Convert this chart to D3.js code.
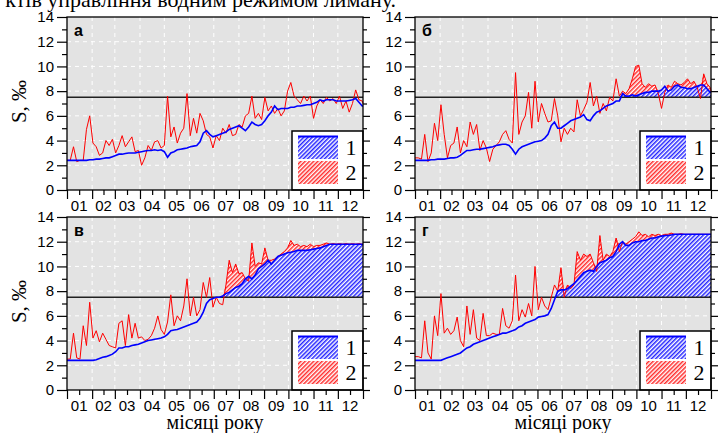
<!DOCTYPE html>
<html>
<head>
<meta charset="utf-8">
<script src="https://cdn.jsdelivr.net/npm/d3@7"></script>
<style>
  body { margin: 0; background: #fff; }
  svg { display: block; }
</style>
</head>
<body>
<svg id="chart" width="723" height="433"></svg>
<script>
// days of the year the values were read at
const days = [0,4,8,12,16,20,24,28,32,36,40,44,48,52,56,60,64,68,72,76,80,84,88,92,96,100,104,108,112,116,
  120,124,128,132,136,140,144,148,152,156,160,164,168,172,176,180,184,188,192,196,200,204,208,212,216,220,224,228,232,236,
  240,244,248,252,256,260,264,268,272,276,280,284,288,292,296,300,304,308,312,316,320,324,328,332,336,340,344,348,352,356,
  360,364,365];

const monthStarts = [0,31,59,90,120,151,181,212,243,273,304,334,365];
const monthMids = [15,45,74,105,135,166,196,227,258,288,319,349];
const monthLabels = ["01","02","03","04","05","06","07","08","09","10","11","12"];
const yMajor = [0,2,4,6,8,10,12,14];
const yMinor = [1,3,5,7,9,11,13];
const threshold = 7.5;

// panel а
const redA = [2.4,2.4,3.5,2.3,2.4,2.4,4.9,6.0,3.8,3.5,
  2.8,3.0,4.0,3.6,4.1,3.0,3.6,4.4,3.5,3.9,
  4.3,3.1,3.2,2.0,2.6,3.6,3.2,3.9,4.0,3.4,
  3.6,7.6,4.3,5.1,3.8,4.6,5.0,7.8,4.4,5.8,
  4.6,6.2,5.6,4.5,4.3,3.4,4.4,4.0,5.0,4.6,
  5.3,4.4,4.5,5.3,5.1,6.0,6.2,7.6,5.8,6.2,
  5.7,7.5,6.4,6.8,6.2,6.6,6.0,6.4,8.0,8.7,
  7.6,7.3,7.0,7.6,7.2,7.6,5.8,6.8,7.3,7.0,
  7.5,7.2,7.4,7.0,7.6,6.6,7.2,6.3,7.0,8.1,
  7.3,7.2,7.0];
const blueA = [2.4,2.4,2.4,2.4,2.4,2.4,2.4,2.45,2.45,2.5,
  2.5,2.55,2.6,2.6,2.7,2.8,2.9,2.9,2.95,3.0,
  3.0,3.0,3.05,3.1,3.15,3.2,3.2,3.25,3.2,3.25,
  3.1,2.65,3.0,3.1,3.25,3.3,3.35,3.4,3.5,3.55,
  3.6,3.9,4.6,4.8,4.5,4.3,4.4,4.5,4.6,4.7,
  4.9,5.0,5.1,5.2,5.0,4.8,5.1,5.5,5.3,5.2,
  5.3,5.6,6.0,6.3,6.8,6.5,6.6,6.6,6.6,6.7,
  6.7,6.8,6.8,6.85,6.9,6.9,7.0,7.1,7.3,7.2,
  7.3,7.3,7.3,7.2,7.2,7.2,7.2,7.25,7.3,7.4,
  7.1,6.8,6.8];

// panel б
const redB = [2.6,2.6,2.5,4.5,2.3,3.0,5.4,4.0,6.9,4.5,
  2.6,3.6,3.8,5.1,3.0,4.0,3.5,5.5,4.5,5.3,
  3.2,4.0,3.4,2.3,3.3,3.6,3.9,4.5,4.8,4.1,
  3.8,9.5,4.5,5.5,6.0,7.9,5.0,8.8,5.5,7.0,
  6.2,5.5,5.6,7.4,6.0,3.9,5.0,4.5,5.0,4.7,
  7.3,6.0,6.5,7.1,8.7,6.8,7.6,6.2,7.0,6.4,
  7.5,7.2,9.0,7.6,8.0,7.8,8.2,9.0,10.0,10.1,
  8.6,8.3,8.6,8.4,8.5,7.8,6.6,7.9,8.5,8.3,
  8.8,8.6,8.5,8.7,9.0,8.6,8.8,8.3,7.4,9.4,
  8.6,8.3,8.0];
const blueB = [2.4,2.4,2.4,2.4,2.4,2.45,2.45,2.5,2.5,2.5,
  2.55,2.6,2.6,2.65,2.8,3.0,3.2,3.2,3.25,3.3,
  3.3,3.35,3.4,3.45,3.5,3.6,3.65,3.7,3.7,3.6,
  3.3,2.9,3.3,3.5,3.6,3.7,3.8,3.9,3.95,4.0,
  4.2,4.5,5.2,5.5,5.0,5.0,5.2,5.4,5.6,5.7,
  5.8,5.9,6.1,5.7,5.6,6.0,6.3,6.4,6.6,6.8,
  6.9,7.0,7.2,7.2,7.8,7.6,7.6,7.7,7.6,7.7,
  7.8,7.9,7.9,8.0,8.0,8.0,8.1,8.4,8.0,8.1,
  8.4,8.5,8.3,8.3,8.2,8.2,8.3,8.4,8.5,8.5,
  8.2,7.9,7.9];

// panel в
const redC = [2.5,2.5,4.6,2.6,2.5,5.2,3.6,7.1,4.2,4.8,
  3.9,4.6,4.1,3.6,3.5,3.4,5.4,5.6,3.6,6.1,
  4.2,5.4,4.2,4.3,4.0,4.1,4.4,5.0,6.0,4.9,
  4.5,5.5,7.7,5.2,6.0,5.6,6.8,9.0,6.0,7.5,
  6.0,6.5,8.7,7.5,9.1,6.7,7.5,7.0,6.9,8.5,
  10.5,9.5,10.2,9.4,9.5,9.0,8.8,11.9,10.0,10.3,
  10.2,11.5,10.5,10.5,10.6,10.8,11.0,11.2,11.5,12.1,
  11.7,11.8,11.6,11.7,11.6,11.8,11.6,11.7,11.7,11.8,
  11.9,11.8,11.85,11.8,11.85,11.8,11.85,11.8,11.85,11.8,
  11.85,11.8,11.8];
const blueC = [2.4,2.4,2.4,2.4,2.4,2.4,2.4,2.4,2.4,2.45,
  2.55,2.65,2.7,2.8,2.9,3.1,3.4,3.4,3.5,3.5,
  3.6,3.65,3.7,3.8,3.9,4.0,4.05,4.1,4.15,4.2,
  4.3,4.5,4.8,4.85,4.9,5.0,5.1,5.2,5.3,5.4,
  5.5,5.8,6.3,7.0,7.3,7.4,7.5,7.5,7.6,7.8,
  7.9,8.1,8.3,8.4,8.6,9.0,9.2,9.0,9.3,9.8,
  10.0,10.2,10.5,10.2,10.5,10.8,10.9,11.0,11.1,11.15,
  11.2,11.3,11.3,11.3,11.3,11.35,11.4,11.45,11.5,11.6,
  11.7,11.8,11.8,11.8,11.8,11.8,11.8,11.8,11.8,11.8,
  11.8,11.8,11.8];

// panel г
const redD = [2.7,2.7,2.6,5.6,3.0,2.5,6.0,4.4,7.8,4.6,
  5.0,4.5,4.8,5.9,4.0,3.5,6.8,4.5,6.5,4.2,
  4.0,6.2,4.4,4.4,4.6,4.5,4.5,6.6,5.2,5.0,
  5.6,9.3,5.6,6.5,5.9,7.0,6.0,10.0,6.5,7.5,
  6.8,6.5,7.5,8.5,8.0,9.9,7.5,8.5,8.2,8.5,
  11.2,10.5,11.0,10.8,11.0,10.3,9.6,12.5,10.5,11.0,
  10.8,11.2,12.3,11.2,12.0,11.8,12.0,12.2,12.4,12.8,
  12.5,12.6,12.4,12.6,12.5,12.6,12.5,12.6,12.6,12.7,
  12.6,12.6,12.65,12.6,12.6,12.6,12.6,12.6,12.6,12.6,
  12.6,12.6,12.6];
const blueD = [2.4,2.4,2.4,2.4,2.4,2.4,2.4,2.4,2.4,2.5,
  2.6,2.7,2.8,2.9,3.0,3.2,3.4,3.5,3.7,3.8,
  3.9,4.0,4.1,4.2,4.3,4.4,4.5,4.6,4.6,4.7,
  4.8,4.9,5.1,5.2,5.4,5.5,5.6,5.7,5.9,5.95,
  6.0,6.1,6.6,7.3,8.0,8.1,8.1,8.2,8.4,8.6,
  8.9,9.2,9.5,9.6,9.7,9.6,10.0,10.3,10.4,10.5,
  10.7,10.8,11.2,11.8,12.0,11.7,11.7,11.9,12.0,12.0,
  12.1,12.1,12.2,12.3,12.3,12.4,12.45,12.5,12.5,12.55,
  12.6,12.6,12.6,12.6,12.6,12.6,12.6,12.6,12.6,12.6,
  12.6,12.6,12.6];

const panels = [
  { label: "а", red: redA, blue: blueA, left: 67, top: 17, yTitle: true, xTitle: false },
  { label: "б", red: redB, blue: blueB, left: 415, top: 17, yTitle: false, xTitle: false },
  { label: "в", red: redC, blue: blueC, left: 67, top: 217, yTitle: true, xTitle: true },
  { label: "г", red: redD, blue: blueD, left: 415, top: 217, yTitle: false, xTitle: true }
];

const W = 296, H = 173;
const sans = "'Liberation Sans', Arial, sans-serif";
const serif = "'Liberation Serif', 'Times New Roman', serif";

const svg = d3.select("#chart");
const defs = svg.append("defs");

function hatch(id, color) {
  const p = defs.append("pattern")
    .attr("id", id)
    .attr("width", 3).attr("height", 3)
    .attr("patternUnits", "userSpaceOnUse")
    .attr("patternTransform", "rotate(45)");
  p.append("rect").attr("width", 3).attr("height", 3).attr("fill", "#fff");
  p.append("line")
    .attr("x1", 0.75).attr("y1", 0).attr("x2", 0.75).attr("y2", 3)
    .attr("stroke", color).attr("stroke-width", 1.5);
}
hatch("hatchBlue", "#2222ff");
hatch("hatchRed", "#ff2a2a");

// caption line cut at the top of the picture
svg.append("text")
  .attr("x", 396).attr("y", 7)
  .attr("text-anchor", "end")
  .attr("font-family", serif)
  .attr("font-size", 22)
  .text("ктів управління водним режимом лиману.");

const x = d3.scaleLinear().domain([0, 365]).range([0, W]);
const y = d3.scaleLinear().domain([0, 14]).range([H, 0]);

panels.forEach(function(p) {
  const g = svg.append("g").attr("transform", "translate(" + p.left + "," + p.top + ")");
  const rows = days.map(function(d, i) { return { day: d, red: p.red[i], blue: p.blue[i] }; });

  g.append("rect").attr("width", W).attr("height", H).attr("fill", "#e3e3e3");

  // dashed white grid
  g.selectAll(".hgrid").data(yMajor.slice(1, -1)).join("line")
    .attr("x1", 0).attr("x2", W)
    .attr("y1", d => y(d)).attr("y2", d => y(d))
    .attr("stroke", "#fff").attr("stroke-dasharray", "4,4");
  g.selectAll(".vgrid").data(monthStarts.slice(1, -1)).join("line")
    .attr("x1", d => x(d)).attr("x2", d => x(d))
    .attr("y1", 0).attr("y2", H)
    .attr("stroke", "#fff").attr("stroke-dasharray", "4,4");

  // hatched areas above the 7.5 line
  g.append("path").datum(rows)
    .attr("fill", "url(#hatchRed)")
    .attr("d", d3.area()
      .x(d => x(d.day))
      .y0(y(threshold))
      .y1(d => y(d.blue > threshold ? Math.max(d.red, d.blue) : threshold)));
  g.append("path").datum(rows)
    .attr("fill", "url(#hatchBlue)")
    .attr("d", d3.area()
      .x(d => x(d.day))
      .y0(y(threshold))
      .y1(d => y(Math.max(d.blue, threshold))));

  g.append("line")
    .attr("x1", 0).attr("x2", W)
    .attr("y1", y(threshold)).attr("y2", y(threshold))
    .attr("stroke", "#222").attr("stroke-width", 1.5);

  g.append("path").datum(rows)
    .attr("fill", "none").attr("stroke", "#ff0000").attr("stroke-width", 1)
    .attr("d", d3.line().x(d => x(d.day)).y(d => y(d.red)));
  g.append("path").datum(rows)
    .attr("fill", "none").attr("stroke", "#0000ff").attr("stroke-width", 1.6)
    .attr("d", d3.line().x(d => x(d.day)).y(d => y(d.blue)));

  // legend
  const lg = g.append("g").attr("transform", "translate(" + (W - 71) + "," + (H - 59) + ")");
  lg.append("rect").attr("width", 71).attr("height", 59)
    .attr("fill", "#fff").attr("stroke", "#000").attr("stroke-width", 1.5);
  lg.append("rect").attr("x", 6).attr("y", 5).attr("width", 40).attr("height", 23).attr("fill", "url(#hatchBlue)");
  lg.append("line").attr("x1", 6).attr("x2", 46).attr("y1", 5.5).attr("y2", 5.5)
    .attr("stroke", "#0000ff").attr("stroke-width", 2);
  lg.append("rect").attr("x", 6).attr("y", 30).attr("width", 40).attr("height", 23).attr("fill", "url(#hatchRed)");
  lg.selectAll(".lgtxt").data(["1", "2"]).join("text")
    .attr("x", 59).attr("y", (d, i) => 24 + i * 25)
    .attr("text-anchor", "middle")
    .attr("font-family", serif).attr("font-size", 22)
    .text(d => d);

  g.append("rect").attr("width", W).attr("height", H)
    .attr("fill", "none").attr("stroke", "#000").attr("stroke-width", 1.3);

  // axes
  function styleAxis(a) {
    a.select(".domain").remove();
    a.selectAll(".tick line").attr("stroke", "#000").attr("stroke-width", 1.2);
    a.selectAll("text").attr("font-family", sans).attr("font-size", 15).attr("fill", "#000");
  }
  g.append("g").call(d3.axisLeft(y).tickValues(yMajor).tickSize(10).tickPadding(3)).call(styleAxis);
  g.append("g").call(d3.axisLeft(y).tickValues(yMinor).tickSize(5).tickFormat("")).call(styleAxis);
  g.append("g").attr("transform", "translate(" + W + ",0)")
    .call(d3.axisRight(y).tickValues(yMajor).tickSize(7).tickFormat("")).call(styleAxis);
  g.append("g").attr("transform", "translate(" + W + ",0)")
    .call(d3.axisRight(y).tickValues(yMinor).tickSize(4).tickFormat("")).call(styleAxis);
  g.append("g").attr("transform", "translate(0," + H + ")")
    .call(d3.axisBottom(x).tickValues(monthStarts).tickSize(9).tickFormat("")).call(styleAxis);
  g.append("g").attr("transform", "translate(0," + H + ")")
    .call(d3.axisBottom(x).tickValues(monthMids).tickSize(5).tickFormat("")).call(styleAxis);
  g.selectAll(".mlabel").data(monthLabels).join("text")
    .attr("x", (d, i) => x(monthMids[i]))
    .attr("y", H + 21)
    .attr("text-anchor", "middle")
    .attr("font-family", sans).attr("font-size", 15)
    .text(d => d);

  g.append("text")
    .attr("x", 7).attr("y", 19)
    .attr("font-family", sans).attr("font-weight", "bold").attr("font-size", 16)
    .text(p.label);

  if (p.yTitle) {
    g.append("text")
      .attr("transform", "translate(" + (26 - p.left) + "," + (H / 2 - 2) + ") rotate(-90)")
      .attr("text-anchor", "middle")
      .attr("font-family", serif).attr("font-size", 21)
      .text("S, ‰");
  }
  if (p.xTitle) {
    g.append("text")
      .attr("x", W / 2).attr("y", H + 39)
      .attr("text-anchor", "middle")
      .attr("font-family", serif).attr("font-size", 20)
      .text("місяці року");
  }
});
</script>
</body>
</html>
